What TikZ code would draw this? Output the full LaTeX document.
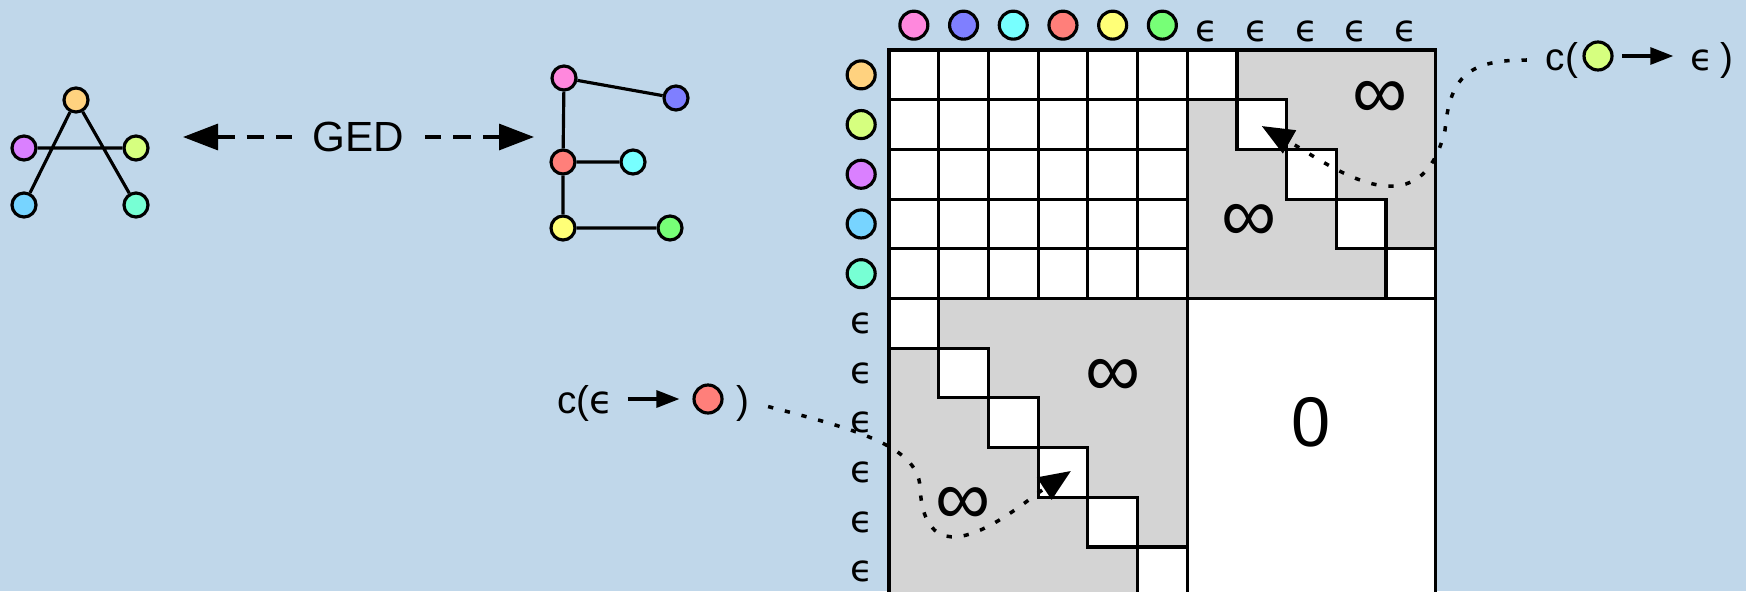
\documentclass[tikz,border=0pt]{standalone}
\usepackage{fontspec}
\setmainfont{Liberation Sans}
\newfontfamily\epsfont{DejaVu Sans}
\usetikzlibrary{arrows.meta}

\definecolor{bg}{RGB}{192,215,234}
\definecolor{cgray}{RGB}{212,212,212}
\definecolor{cpink}{RGB}{255,136,221}
\definecolor{cblue}{RGB}{127,127,255}
\definecolor{ccyan}{RGB}{119,255,255}
\definecolor{cred}{RGB}{255,127,122}
\definecolor{cyellow}{RGB}{255,255,119}
\definecolor{cgreen}{RGB}{119,255,119}
\definecolor{corange}{RGB}{255,210,127}
\definecolor{clime}{RGB}{214,255,127}
\definecolor{cviolet}{RGB}{218,128,255}
\definecolor{clblue}{RGB}{119,212,255}
\definecolor{caqua}{RGB}{119,255,212}

\begin{document}
\begin{tikzpicture}[x=0.1mm,y=-0.1mm,line width=0.9pt,
    vtx/.style={circle,draw,line width=0.9pt,inner sep=0pt,minimum size=2.4mm},
    lab/.style={circle,draw,line width=0.9pt,inner sep=0pt,minimum size=2.8mm},
    txt/.style={inner sep=1pt,font=\fontsize{11}{13}\selectfont},
    epsl/.style={inner sep=1pt,font=\fontsize{10.5}{12}\selectfont\epsfont},
    big/.style={inner sep=0pt,font=\fontsize{22}{26}\selectfont},
    dotline/.style={line width=1pt,dash pattern=on 1.5pt off 3.4pt},
    gedline/.style={dash pattern=on 5pt off 3.4pt,>={Triangle[length=3.5mm,width=2.6mm]},<->},
    costarrow/.style={-{Triangle[length=3.2mm,width=2.6mm]}},
    smallarrow/.style={-{Triangle[length=2.3mm,width=1.7mm]}}]
%fix the page, then paint the background
\useasboundingbox (0,0) rectangle (1746,591);
\fill[bg] (0,0) rectangle (1746,591);

%first graph
\node[vtx,fill=corange] (a) at (76,100) {};
\node[vtx,fill=cviolet] (b) at (24,148) {};
\node[vtx,fill=clime] (c) at (136,148) {};
\node[vtx,fill=clblue] (d) at (24,205) {};
\node[vtx,fill=caqua] (e) at (136,205) {};
\draw (a)--(d) (a)--(e) (b)--(c);

%second graph
\node[vtx,fill=cpink] (f) at (564,78) {};
\node[vtx,fill=cblue] (g) at (676,98) {};
\node[vtx,fill=cred] (h) at (563,162) {};
\node[vtx,fill=ccyan] (i) at (633,162) {};
\node[vtx,fill=cyellow] (j) at (563,228) {};
\node[vtx,fill=cgreen] (k) at (670,228) {};
\draw (f)--(g) (f)--(h) (h)--(i) (h)--(j) (j)--(k);

%distance between the two
\coordinate (gl) at (183,137);
\coordinate (gr) at (534,137);
\draw[gedline] (gl) -- node[fill=bg,inner xsep=6pt,font=\fontsize{12}{14}\selectfont] (ged) {GED} (gr);

%cost matrix, one unit per cell
\begin{scope}[shift={(889,50)},x=4.97mm,y=-4.97mm]
\fill[white] (0,0) rectangle (6,5);
\fill[cgray] (6,0) rectangle (11,5);
\fill[cgray] (0,5) rectangle (6,11);
\foreach \c in {0,...,6} \draw (\c,0) -- (\c,5);
\foreach \r in {1,...,4} \draw (0,\r) -- (6,\r);
\foreach \i in {1,...,5} \draw[fill=white] (5+\i,\i-1) rectangle (6+\i,\i);
\foreach \i in {1,...,6} \draw[fill=white] (\i-1,4+\i) rectangle (\i,5+\i);
\draw (0,0) rectangle (11,5);
\draw (0,5) rectangle (6,11);
\draw[fill=white] (6,5) rectangle (11,11);

%row and column labels
\foreach \col [count=\n] in {cpink,cblue,ccyan,cred,cyellow,cgreen}
  \node[lab,fill=\col] (top\n) at (\n-0.5,-0.5) {};
\foreach \n in {1,...,5}
  \node[epsl] (tope\n) at (5.4+\n,-0.38) {ϵ};
\foreach \col [count=\n] in {corange,clime,cviolet,clblue,caqua}
  \node[lab,fill=\col] (left\n) at (-0.56,\n-0.5) {};
\foreach \n in {1,...,6}
  \node[epsl] (lefte\n) at (-0.54,4.5+\n) {ϵ};

%entries
\node[big] (inf1) at (9.88,1) {∞};
\node[big] (inf2) at (7.24,3.48) {∞};
\node[big] (inf3) at (4.51,6.6) {∞};
\node[big] (inf4) at (1.49,9.17) {∞};
\node[inner sep=0pt,font=\fontsize{20}{24}\selectfont] (zero) at (8.49,7.5) {0};
\coordinate (del) at (7.5,1.53);
\coordinate (ins) at (3.66,8.47);
\end{scope}

%deleting a node
\node[txt,anchor=base] (c1) at (1562,70) {c(};
\node[lab,fill=clime] (d1) at (1598,56) {};
\node[epsl,anchor=base] (e1) at (1702,70) {ϵ};
\node[txt,anchor=base] (p1) at (1727,70) {)};
\draw[smallarrow,shorten <=2.5pt,shorten >=3.5pt] (d1.east) -- (d1.east -| e1.west);
\draw[dotline,costarrow,shorten <=4pt] (c1.west) .. controls (1470,60) and (1450,75) .. (1445,130)
  .. controls (1420,235) and (1330,165) .. (del);

%inserting a node
\node[txt,anchor=base] (c2) at (585,413) {c(\epsfont ϵ};
\node[lab,fill=cred] (d2) at (708,399) {};
\node[txt,anchor=base] (p2) at (743,413) {)};
\draw[smallarrow,shorten <=2.7pt,shorten >=3.7pt] (c2.east |- d2) -- (d2.west);
\draw[dotline,costarrow,shorten <=4pt] (p2.east) .. controls (850,428) and (918,445) .. (920,487)
  .. controls (925,590) and (1021,504) .. (ins);
\end{tikzpicture}
\end{document}
